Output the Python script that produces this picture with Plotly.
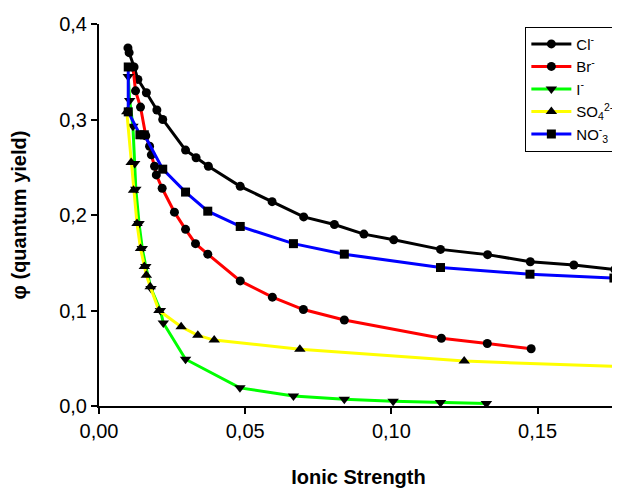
import plotly.graph_objects as go

# ionic strength (x) and quantum yield (y) per anion
cl_x = [0.0099, 0.0103, 0.0120, 0.0133, 0.0162, 0.0198, 0.0218, 0.0296, 0.0332, 0.0374,
        0.0483, 0.0592, 0.0700, 0.0805, 0.0906, 0.1008, 0.1168, 0.1329, 0.1475, 0.1624, 0.1764]
cl_y = [0.375, 0.370, 0.355, 0.342, 0.328, 0.310, 0.300, 0.268, 0.260, 0.251,
        0.230, 0.214, 0.198, 0.190, 0.180, 0.174, 0.164, 0.1585, 0.151, 0.1476, 0.143]

br_x = [0.0116, 0.0125, 0.0142, 0.0160, 0.0173, 0.0179, 0.0190, 0.0196, 0.0216, 0.0258,
        0.0296, 0.0330, 0.0372, 0.0483, 0.0593, 0.0699, 0.0839, 0.1171, 0.1328, 0.1478]
br_y = [0.355, 0.330, 0.313, 0.283, 0.272, 0.263, 0.251, 0.242, 0.228, 0.203,
        0.185, 0.170, 0.159, 0.131, 0.114, 0.101, 0.090, 0.071, 0.0655, 0.060]

i_x = [0.0100, 0.0105, 0.0116, 0.0122, 0.0126, 0.0137, 0.0148, 0.0160, 0.0178, 0.0210,
       0.0220, 0.0296, 0.0482, 0.0665, 0.0839, 0.1006, 0.1168, 0.1325]
i_y = [0.345, 0.320, 0.293, 0.254, 0.227, 0.191, 0.165, 0.146, 0.123, 0.100,
       0.087, 0.049, 0.019, 0.0105, 0.007, 0.005, 0.0036, 0.0025]

so4_x = [0.0095, 0.0110, 0.0118, 0.0130, 0.0142, 0.0155, 0.0162, 0.0175, 0.0205, 0.0281,
         0.0338, 0.0394, 0.0687, 0.1249, 0.19]
so4_y = [0.308, 0.255, 0.226, 0.191, 0.165, 0.146, 0.137, 0.125, 0.100, 0.083,
         0.074, 0.069, 0.0595, 0.047, 0.040]

no3_x = [0.0100, 0.0100, 0.0140, 0.0155, 0.0218, 0.0296, 0.0372, 0.0483, 0.0665, 0.0839,
         0.1168, 0.1474, 0.1761]
no3_y = [0.355, 0.308, 0.284, 0.284, 0.248, 0.224, 0.204, 0.188, 0.170, 0.159,
         0.145, 0.138, 0.134]

series = [
    ('Cl<sup>-</sup>', cl_x, cl_y, '#000000', 'circle', 9),
    ('Br<sup>-</sup>', br_x, br_y, '#ff0000', 'circle', 9),
    ('I<sup>-</sup>', i_x, i_y, '#00ff00', 'triangle-down', 10),
    ('SO<sub>4</sub><sup>2-</sup>', so4_x, so4_y, '#ffff00', 'triangle-up', 10),
    ('NO<sup>-</sup><sub>3</sub>', no3_x, no3_y, '#0000ff', 'square', 9),
]

fig = go.Figure()
for name, xs, ys, color, symbol, size in series:
    fig.add_trace(go.Scatter(
        x=xs, y=ys, name=name, mode='lines+markers',
        line=dict(color=color, width=3),
        marker=dict(color='black', symbol=symbol, size=size, line=dict(width=0)),
    ))

axis_common = dict(
    showline=True, linecolor='black', linewidth=2,
    ticks='outside', ticklen=6, tickwidth=2, tickcolor='black',
    showgrid=False, zeroline=False, automargin=False,
    tickfont=dict(size=20, color='black'),
)

# the page adds an 8px body margin, so the plot box is shifted back by 8px
fig.update_layout(
    width=620, height=488,
    margin=dict(l=91, r=8, t=16, b=90),
    paper_bgcolor='white', plot_bgcolor='white',
    font=dict(family='Liberation Sans, Arial', color='black'),
    separators=',.',
    xaxis=dict(range=[0, 0.1775], dtick=0.05, tickformat='.2f',
               title=dict(text='<b>Ionic Strength</b>', font=dict(size=20), standoff=29),
               **axis_common),
    yaxis=dict(range=[0, 0.4], dtick=0.1, tickformat='.1f',
               title=dict(text='<b>φ (quantum yield)</b>', font=dict(size=20), standoff=27),
               **axis_common),
    legend=dict(x=0.8215, y=0.993, xanchor='left', yanchor='top',
                bordercolor='black', borderwidth=1, bgcolor='white',
                font=dict(size=15), itemwidth=40),
    showlegend=True,
)

fig.write_html("out.html")
